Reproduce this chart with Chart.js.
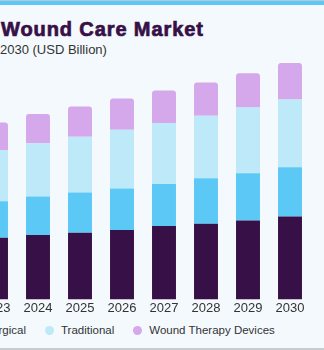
<!DOCTYPE html>
<html>
<head>
<meta charset="utf-8">
<script src="https://cdn.jsdelivr.net/npm/chart.js@4/dist/chart.umd.min.js"></script>
<style>
  html, body { margin: 0; padding: 0; }
  body {
    width: 324px; height: 350px; overflow: hidden; position: relative;
    background: #f4f9fd; font-family: "Liberation Sans", Arial, sans-serif;
  }
  .topbar { position: absolute; left: 0; top: 0; width: 324px; height: 5px; background: #5bc8f5; border-top: 1px solid #b9c7cf; box-sizing: border-box; }
  .bottomline { position: absolute; left: 0; top: 348px; width: 324px; height: 2px; background: #c9cccf; }
  .title { position: absolute; left: 1px; top: 19px; font-size: 20px; line-height: 20px; font-weight: bold; letter-spacing: 0.9px; -webkit-text-stroke: 0.7px #371047; color: #371047; white-space: nowrap; }
  .subtitle { position: absolute; left: 0px; top: 43px; font-size: 13px; line-height: 13px; color: #333; white-space: nowrap; }
  .chartbox { position: absolute; left: -25px; top: 47px; width: 336px; height: 270px; }
  .legend { position: absolute; top: 323px; font-size: 11.5px; line-height: 15px; color: #333; white-space: nowrap; display: flex; align-items: center; }
  .legend .item { display: flex; align-items: center; margin-right: 19px; }
  .legend .dot { width: 9px; height: 9px; border-radius: 50%; margin-right: 7px; }
</style>
</head>
<body>
<div class="topbar"></div>
<div class="title">Wound Care Market</div>
<div class="subtitle">2030 (USD Billion)</div>
<div class="chartbox"><canvas id="chart"></canvas></div>
<div class="legend" id="legendLeft" style="right: 298px;"></div>
<div class="legend" id="legendRight" style="left: 45px;"></div>
<div class="bottomline"></div>
<script>
const years = ['2023', '2024', '2025', '2026', '2027', '2028', '2029', '2030'];
const seriesNames = ['Advanced', 'Surgical', 'Traditional', 'Wound Therapy Devices'];
const seriesColors = ['#371047', '#5bc8f5', '#bde9f9', '#d4a8eb'];

const advanced = [2.44, 2.55, 2.64, 2.75, 2.91, 3.00, 3.13, 3.28];
const surgical = [1.45, 1.53, 1.60, 1.64, 1.66, 1.80, 1.87, 1.96];
const traditional = [2.03, 2.11, 2.20, 2.33, 2.42, 2.48, 2.60, 2.68];
const therapyDevices = [1.09, 1.16, 1.20, 1.24, 1.29, 1.31, 1.36, 1.45];

const seriesValues = [advanced, surgical, traditional, therapyDevices];

const datasets = seriesNames.map(function (name, i) {
    return {
        label: name,
        data: seriesValues[i],
        backgroundColor: seriesColors[i],
        borderWidth: 0,
        borderSkipped: false,
        borderRadius: i === 3 ? { topLeft: 3, topRight: 3, bottomLeft: 0, bottomRight: 0 } : 0,
        barPercentage: 0.57,
        categoryPercentage: 1.0
    };
});

new Chart(document.getElementById('chart').getContext('2d'), {
    type: 'bar',
    data: { labels: years, datasets: datasets },
    options: {
        responsive: true,
        maintainAspectRatio: false,
        animation: false,
        layout: { padding: 0 },
        plugins: {
            legend: { display: false },
            tooltip: { enabled: false }
        },
        scales: {
            x: {
                stacked: true,
                grid: { display: false, drawTicks: false },
                border: { display: false },
                ticks: {
                    color: '#333',
                    padding: 1,
                    font: { family: '"Liberation Sans", Arial, sans-serif', size: 13 }
                }
            },
            y: {
                stacked: true,
                display: false,
                min: 0,
                max: 10
            }
        }
    }
});

// legend: Surgical is clipped at the left edge, the rest flow from x=45
function legendItem(i) {
    const item = document.createElement('div');
    item.className = 'item';
    const dot = document.createElement('span');
    dot.className = 'dot';
    dot.style.background = seriesColors[i];
    const text = document.createElement('span');
    text.textContent = seriesNames[i];
    item.appendChild(dot);
    item.appendChild(text);
    return item;
}
const left = legendItem(1);
left.style.marginRight = '0';
document.getElementById('legendLeft').appendChild(left);
document.getElementById('legendRight').appendChild(legendItem(2));
document.getElementById('legendRight').appendChild(legendItem(3));
</script>
</body>
</html>
